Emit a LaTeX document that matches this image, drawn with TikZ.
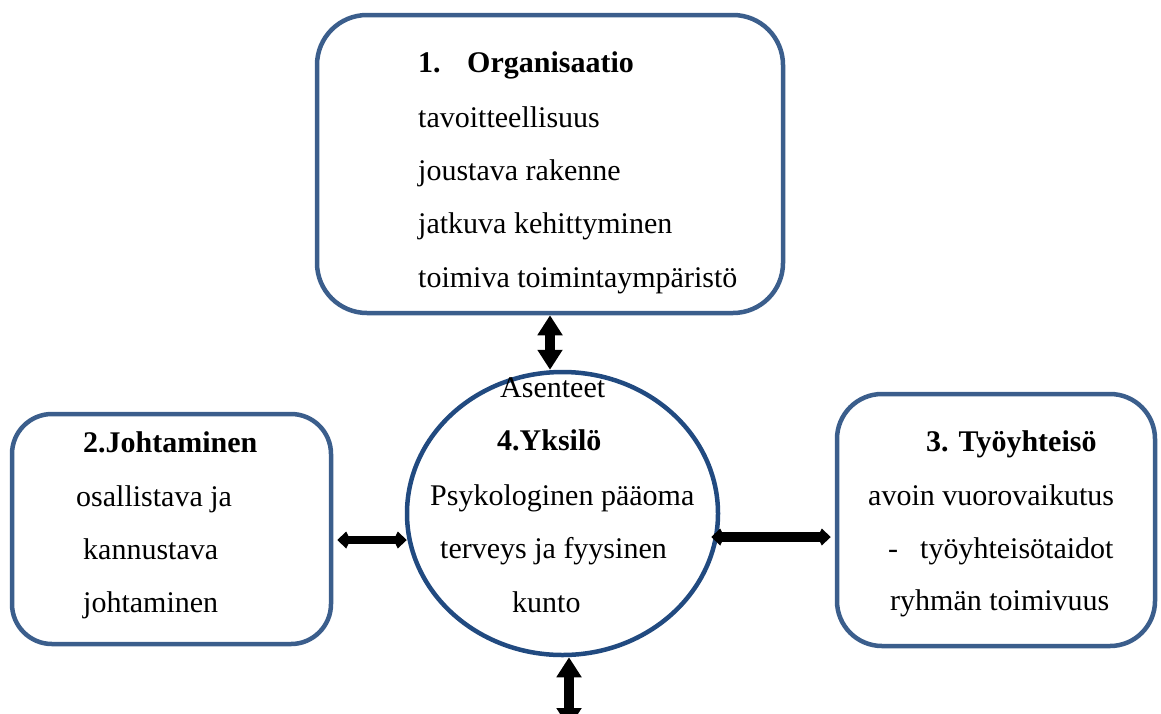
\documentclass[tikz,border=0pt]{standalone}
\usepackage{fontspec}
\setmainfont{Liberation Serif}
\usetikzlibrary{arrows.meta,shapes.geometric}
\definecolor{boxblue}{RGB}{59,94,140}
\definecolor{circblue}{RGB}{33,74,128}
\tikzset{
  rbox/.style={draw=boxblue, line width=4.5pt, rounded corners=#1, inner sep=0pt, fill=white},
  circ/.style={ellipse, draw=circblue, line width=4.5pt, inner sep=0pt},
  txt/.style={anchor=base west, inner sep=0pt, font=\fontsize{30}{36}\selectfont},
  btxt/.style={anchor=base west, inner sep=0pt, font=\fontsize{30}{36}\selectfont\bfseries},
  vbig/.style={line width=10pt, {Triangle[length=20pt,width=24pt]}-{Triangle[length=20pt,width=24pt]}},
  hsmall/.style={line width=#1, {Kite[length=13pt,width=17pt,inset=4pt]}-{Kite[length=13pt,width=17pt,inset=4pt]}}
}
\begin{document}
\begin{tikzpicture}[x=1pt,y=-1pt]
\useasboundingbox (0,0) rectangle (1161,713);
% boxes
\node[rbox=50pt, minimum width=466pt, minimum height=298pt] (org) at (550,164) {};
\node[rbox=40pt, minimum width=319pt, minimum height=230pt] (lead) at (171.5,529) {};
\node[rbox=45pt, minimum width=318pt, minimum height=252pt] (comm) at (996,520) {};
\node[circ, minimum width=311pt, minimum height=283pt] (ind) at (562.5,513.5) {};
% texts: organisation
\node[btxt] (orgno) at (418,72) {1.};
\node[btxt] (orgt) at (467,72) {Organisaatio};
\node[txt] (org1) at (418,127) {tavoitteellisuus};
\node[txt] (org2) at (418,180) {joustava rakenne};
\node[txt] (org3) at (418,233) {jatkuva kehittyminen};
\node[txt] (org4) at (418,287) {toimiva toimintaympäristö};
% leadership
\node[btxt] (leadt) at (83,452) {2.Johtaminen};
\node[txt] (lead1) at (76,506) {osallistava ja};
\node[txt] (lead2) at (83,559) {kannustava};
\node[txt] (lead3) at (83,612) {johtaminen};
% work community
\node[btxt] (commt) at (926,451) {3. Työyhteisö};
\node[txt] (comm1) at (868,505) {avoin vuorovaikutus};
\node[txt] (commd) at (888,558) {-};
\node[txt] (comm2) at (920,558) {työyhteisötaidot};
\node[txt] (comm3) at (890,610) {ryhmän toimivuus};
% individual
\node[txt] (ind0) at (500,397) {Asenteet};
\node[btxt] (indt) at (497,450) {4.Yksilö};
\node[txt] (ind1) at (430,505) {Psykologinen pääoma};
\node[txt] (ind2) at (440,558) {terveys ja fyysinen};
\node[txt] (ind3) at (512,612) {kunto};
% connectors
\coordinate (la) at (0,540);
\coordinate (ra) at (0,537);
\coordinate (bend) at (569,728);
\draw[vbig] (org.south) -- (org.south |- ind.north);
\draw[vbig] (bend |- ind.south) -- (bend);
\draw[hsmall=8pt] ([xshift=4pt]lead.east |- la) -- ([xshift=2pt]ind.west |- la);
\draw[hsmall=10pt] ([xshift=-9pt]ind.east |- ra) -- ([xshift=-4pt]comm.west |- ra);
\end{tikzpicture}
\end{document}
